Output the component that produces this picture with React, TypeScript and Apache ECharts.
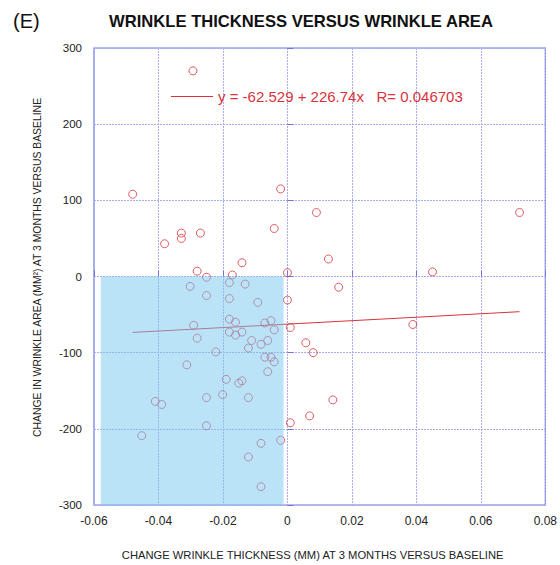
import React, { useEffect, useRef } from "react";
import * as echarts from "echarts";

const thickness = [
  -0.0293, -0.048, -0.0021, 0.009, -0.0041, -0.0329, -0.0329, -0.027, -0.0381, -0.0141,
  -0.028, -0.0251, -0.0171, 0.0, -0.018, -0.0302, -0.0131, -0.0251, -0.018, 0.0,
  -0.0092, -0.018, -0.0161, -0.0291, -0.007, -0.0051, -0.0041, 0.0009, -0.018, -0.0161,
  -0.0141, -0.028, -0.0111, -0.0121, -0.0082, -0.0061, 0.0057, 0.008, -0.0222, -0.0312,
  -0.007, -0.0051, -0.0041, -0.0061, -0.019, -0.0151, -0.0141, -0.0201, -0.0251, -0.0121,
  -0.041, -0.039, 0.0069, 0.0009, -0.0251, -0.0452, -0.0021, -0.0082, -0.0121, -0.0082,
  0.072, 0.0127, 0.045, 0.0159, 0.0389, 0.0141,
];
const area = [
  270, 108, 115, 84, 63, 57, 50, 57, 43, 18,
  7, -1, 2, 5, -8, -13, -10, -25, -29, -31,
  -34, -56, -60, -64, -61, -58, -70, -67, -73, -77,
  -73, -81, -84, -94, -89, -84, -87, -100, -99, -116,
  -106, -106, -112, -125, -135, -140, -137, -155, -159, -159,
  -164, -168, -183, -192, -196, -209, -215, -219, -237, -276,
  84, 23, 6, -14, -63, -162,
];

const intercept = -62.529;
const slope = 226.74;
const rValue = "0.046703";
const fitXs = [-0.048, 0.072];
const shadeX = [-0.0579, -0.0012];
const shadeY = [0, -300];

const xTicks = { min: -0.06, max: 0.08, interval: 0.02 };
const yTicks = { min: -300, max: 300, interval: 100 };

const RED = "#d8333b";
const BLUE = "#6e76dd";
const GRIDC = "#a9abef";
const FONT = "'Liberation Sans', Arial, sans-serif";

export default function App() {
  const ref = useRef<HTMLDivElement>(null);
  useEffect(() => {
    if (!ref.current) return;
    const chart = echarts.init(ref.current, null, { renderer: "svg" });
    const points = thickness.map((x, i) => [x, area[i]]);
    const fit = fitXs.map((x) => [x, intercept + slope * x]);
    const fitName = `y = ${intercept} + ${slope}x   R= ${rValue}`;
    chart.setOption({
      animation: false,
      backgroundColor: "#ffffff",
      textStyle: { fontFamily: FONT },
      title: [
        {
          text: "WRINKLE THICKNESS VERSUS WRINKLE AREA",
          left: 296,
          textAlign: "center",
          top: 8,
          textStyle: { fontSize: 16.6, fontWeight: "bold", color: "#111", fontFamily: FONT },
        },
        {
          text: "(E)",
          left: 8,
          top: 6,
          textStyle: { fontSize: 20, fontWeight: "normal", color: "#111", fontFamily: FONT },
        },
      ],
      legend: {
        data: [{ name: fitName, icon: "rect" }],
        left: 166,
        top: 84,
        itemWidth: 42,
        itemHeight: 1,
        itemGap: 6,
        textStyle: { color: RED, fontSize: 15, fontFamily: FONT },
      },
      grid: {
        left: 94,
        right: 8,
        top: 48,
        bottom: 59,
        show: true,
        borderColor: BLUE,
        borderWidth: 1.2,
        backgroundColor: "transparent",
      },
      xAxis: {
        type: "value",
        ...xTicks,
        name: "CHANGE WRINKLE THICKNESS (MM) AT 3 MONTHS VERSUS BASELINE",
        nameLocation: "middle",
        nameGap: 44,
        nameTextStyle: { fontSize: 11.2, color: "#222", fontFamily: FONT, padding: [0, 14, 0, 0] },
        axisLine: { show: false },
        axisTick: { show: true, inside: true, length: 6, lineStyle: { color: BLUE } },
        axisLabel: {
          fontSize: 12,
          color: "#222",
          margin: 10,
          formatter: (v: number) => String(Math.round(v * 100) / 100),
        },
        splitLine: { show: true, lineStyle: { color: GRIDC, type: [2, 1], width: 1 } },
      },
      yAxis: {
        type: "value",
        ...yTicks,
        name: "CHANGE IN WRINKLE AREA (MM²) AT 3 MONTHS VERSUS BASELINE",
        nameLocation: "middle",
        nameGap: 52,
        nameTextStyle: { fontSize: 10.4, color: "#222", fontFamily: FONT, padding: [0, 0, 0, 18] },
        axisLine: { show: false },
        axisTick: { show: true, inside: true, length: 6, lineStyle: { color: BLUE } },
        axisLabel: { fontSize: 11.5, color: "#222", margin: 12 },
        splitLine: { show: true, lineStyle: { color: GRIDC, type: [2, 1], width: 1 } },
      },
      series: [
        {
          type: "scatter",
          name: "data",
          data: points,
          symbol: "circle",
          symbolSize: 8,
          itemStyle: { color: "rgba(0,0,0,0)", borderColor: RED, borderWidth: 1 },
          z: 2,
        },
        {
          type: "line",
          name: fitName,
          data: fit,
          symbol: "none",
          lineStyle: { color: RED, width: 1 },
          itemStyle: { color: RED },
          z: 3,
        },
        {
          type: "custom",
          name: "shade",
          data: [[shadeX[0], shadeY[0], shadeX[1], shadeY[1]]],
          z: 10,
          silent: true,
          renderItem: (params: any, api: any) => {
            const p1 = api.coord([api.value(0), api.value(1)]);
            const p2 = api.coord([api.value(2), api.value(3)]);
            return {
              type: "rect",
              shape: {
                x: Math.min(p1[0], p2[0]),
                y: Math.min(p1[1], p2[1]),
                width: Math.abs(p2[0] - p1[0]),
                height: Math.abs(p2[1] - p1[1]),
              },
              style: { fill: "rgba(120,200,242,0.5)" },
            };
          },
        },
      ],
    });
    return () => chart.dispose();
  }, []);
  return (
    <div
      ref={ref}
      style={{ position: "fixed", left: 0, top: 0, width: 560, height: 565 }}
    />
  );
}
